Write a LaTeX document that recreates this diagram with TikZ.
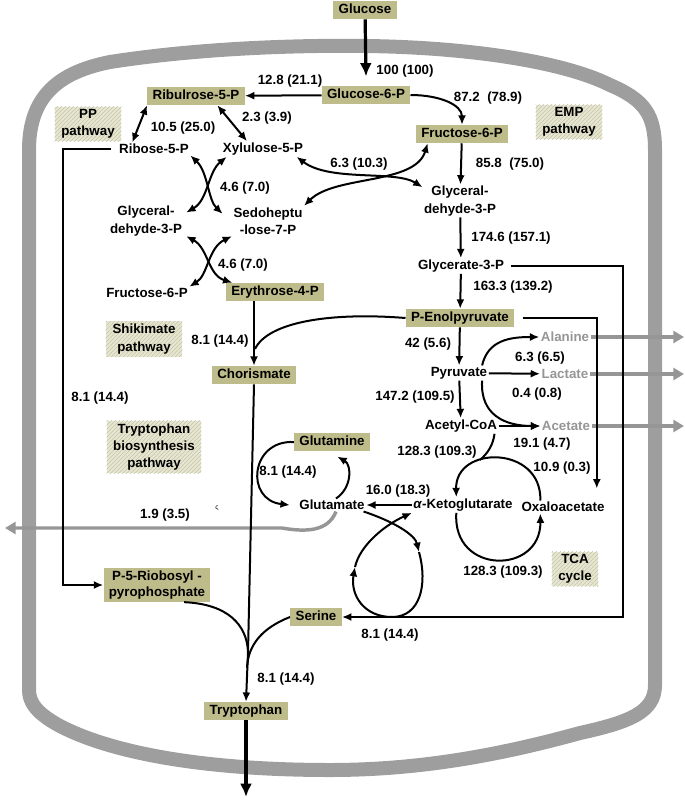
\documentclass[tikz,border=0pt]{standalone}
\usepackage{fontspec}
\setmainfont{Liberation Sans}
\usetikzlibrary{arrows.meta,patterns}
\definecolor{boxolive}{RGB}{190,188,138}
\definecolor{hatchbase}{RGB}{230,230,210}
\definecolor{hatchline}{RGB}{198,198,168}
\definecolor{wallgray}{RGB}{158,158,158}
\definecolor{fluxgray}{RGB}{150,150,150}

\begin{document}
\begin{tikzpicture}
  [x=0.75pt,y=-0.75pt,>={Latex[length=7pt,width=6pt]},
   every node/.style={font=\bfseries\fontsize{10}{13}\selectfont,inner sep=1pt,align=center},
   box/.style={fill=boxolive,inner xsep=4pt,inner ysep=2pt,text height=7.5pt,text depth=2pt},
   boxtwo/.style={fill=boxolive,inner xsep=4pt,inner ysep=2pt,font=\bfseries\fontsize{10}{12}\selectfont},
   hatch/.style={preaction={fill=hatchbase},pattern=north east lines,pattern color=hatchline,inner xsep=5pt,inner ysep=2pt},
   flow/.style={line width=1.5pt},
   bigflow/.style={line width=2.4pt,-{Latex[length=10pt,width=9pt]}},
   grayflow/.style={line width=2.6pt,draw=fluxgray,-{Triangle[length=8pt,width=9pt]}},
   gtext/.style={text=fluxgray}]
  \useasboundingbox (0,0) rectangle (685,800);

  % cell wall
  \draw[line width=10.5pt,wallgray] (29,690) -- (29,150) .. controls (29,95) and (60,72) .. (110,62)
    .. controls (200,48) and (300,45) .. (365,46) .. controls (460,47) and (560,60) .. (610,85)
    .. controls (645,100) and (655,115) .. (655,150) -- (655,685)
    .. controls (655,712) and (630,722) .. (580,733) .. controls (500,755) and (420,770) .. (330,770)
    .. controls (200,770) and (110,752) .. (60,726) .. controls (36,713) and (29,702) .. (29,690) -- cycle;

  % metabolites
  \node[box] (nglc) at (365,10) {Glucose};
  \node[box] (ng6p) at (366,95) {Glucose-6-P};
  \node[box] (nru5p) at (196,96) {Ribulrose-5-P};
  \node[box] (nf6p) at (462,134) {Fructose-6-P};
  \node (nr5p) at (154,149) {Ribose-5-P};
  \node (nx5p) at (263,149) {Xylulose-5-P};
  \node (ngapl) at (146,221) {Glyceral-\\dehyde-3-P};
  \node (ns7p) at (268,221) {Sedoheptu\\-lose-7-P};
  \node (nf6pl) at (147,293) {Fructose-6-P};
  \node[box] (ne4p) at (275,292) {Erythrose-4-P};
  \node (ngap) at (460,201) {Glyceral-\\dehyde-3-P};
  \node (ng3p) at (461,266) {Glycerate-3-P};
  \node[box] (npep) at (460,318) {P-Enolpyruvate};
  \node (npyr) at (459,373) {Pyruvate};
  \node[gtext] (nala) at (565,337) {Alanine};
  \node[gtext] (nlac) at (565,374) {Lactate};
  \node[gtext] (nace) at (566,426) {Acetate};
  \node (naccoa) at (461,426) {Acetyl-CoA};
  \node (nakg) at (463,505) {\textit{α}-Ketoglutarate};
  \node (noaa) at (563,507) {Oxaloacetate};
  \node (nglu) at (332,505) {Glutamate};
  \node[box] (ngln) at (332,442) {Glutamine};
  \node[box] (ncho) at (254,375) {Chorismate};
  \node[boxtwo] (nprpp) at (157,585) {P-5-Riobosyl -\\pyrophosphate};
  \node[box] (nser) at (316,617) {Serine};
  \node[box] (ntrp) at (246,711) {Tryptophan};

  % pathways
  \node[hatch] (hpp) at (88,124) {PP\\pathway};
  \node[hatch] (hemp) at (569,122) {EMP\\pathway};
  \node[hatch] (hshik) at (144,339) {Shikimate\\pathway};
  \node[hatch] (htrp) at (154,447) {Tryptophan\\biosynthesis\\pathway};
  \node[hatch] (htca) at (575,569) {TCA\\cycle};

  % fluxes
  \foreach \x/\y/\t [count=\i] in {405/71/{100 (100)},290/81/{12.8 (21.1)},488/98/{87.2~ (78.9)},
      183/128/{10.5 (25.0)},267/118/{2.3 (3.9)},359/164/{6.3 (10.3)},510/164/{85.8~ (75.0)},
      245/188/{4.6 (7.0)},243/265/{4.6 (7.0)},511/238/{174.6 (157.1)},513/287/{163.3 (139.2)},
      220/341/{8.1 (14.4)},100/398/{8.1 (14.4)},428/344/{42 (5.6)},540/358/{6.3 (6.5)},
      537/394/{0.4 (0.8)},415/397/{147.2 (109.5)},542/444/{19.1 (4.7)},437/452/{128.3 (109.3)},
      562/468/{10.9 (0.3)},288/472/{8.1 (14.4)},398/491/{16.0 (18.3)},165/515/{1.9 (3.5)},
      503/572/{128.3 (109.3)},390/635/{8.1 (14.4)},286/679/{8.1 (14.4)}}
    \node (flx\i) at (\x,\y) {\t};
  \node[font=\fontsize{5}{5}\selectfont] (nmark) at (217,508) {ς};

  \coordinate (xr) at (684,0);
  \coordinate (xl) at (5,528);
  \coordinate (jshik) at (255,349);
  \coordinate (jtrp) at (248,652);
  \coordinate (jser) at (247,668);
  \coordinate (jtca) at (480,460);
  \coordinate (e8a) at (419,552);
  \coordinate (e8b) at (355,567);
  \coordinate (trpout) at (246,797);

  % secreted
  \foreach \n in {nala,nlac,nace}
    \draw[grayflow] (\n.east) -- (\n.east -| xr);
  \draw[grayflow] ([xshift=3pt]nglu.south) .. controls (328,532) and (305,532) .. (282,528) -- (xl);

  \draw[bigflow] (nglc) -- ([yshift=7pt]ng6p.north);
  \draw[bigflow] (ntrp) -- (trpout);

  \foreach \from/\to in {ng6p/nru5p,nf6p/ngap,ngap/ng3p,ng3p/npep,npep/npyr,npyr/naccoa,npyr/nlac,naccoa/nace,nakg/nglu}
    \draw[flow,->] (\from) -- (\to);

  \draw[flow,->] (ng6p.east) .. controls (440,95) and (462,105) .. (nf6p.north);
  \draw[flow,<->] (nru5p.south west) -- ([xshift=11pt]nr5p.north west);
  \draw[flow,<->] ([xshift=16pt]nru5p.south) -- ([xshift=-12pt]nx5p.north);
  \draw[flow,<->] (nr5p.south east) .. controls (208,172) and (208,200) .. ([xshift=-7pt,yshift=-6pt]ns7p.north west);
  \draw[flow,<->] ([xshift=4pt]nx5p.south west) .. controls (208,172) and (208,200) .. ([xshift=2pt,yshift=-6pt]ngapl.north east);
  \draw[flow,<->] ([xshift=2pt,yshift=1pt]ngapl.south east) .. controls (208,248) and (208,275) .. ([xshift=5pt]ne4p.north west);
  \draw[flow,<->] (ns7p.south west) .. controls (208,248) and (208,275) .. (nf6pl.north east);
  \draw[flow,<->] ([xshift=-6pt]nx5p.south east) .. controls (330,182) and (395,170) .. ([yshift=-2pt]ngap.north west);
  \draw[flow,<->] (ns7p.north east) .. controls (335,175) and (415,185) .. ([xshift=9pt]nf6p.south west);

  \draw[flow,->] ([xshift=-5pt]nr5p.west) -- ++(-48,0) |- (nprpp.west);
  \draw[flow,->] ([xshift=4pt]ng3p.east) -- ++(112,0) |- (nser.east);
  \draw[flow,->] ([xshift=6pt]npep.east) -| ([xshift=-7pt,yshift=9pt]noaa.north east);
  \draw[flow] (npep.west) .. controls (330,312) and (268,322) .. (jshik);
  \draw[flow,->] (ncho.north |- ne4p.south) -- (ncho.north);
  \draw[flow] (ncho.south) -- (jtrp);
  \draw[flow,->] (jtrp) -- (ntrp.north);
  \draw[flow] ([xshift=-20pt]nprpp.south east) .. controls (228,604) and (247,625) .. (jtrp);
  \draw[flow] (nser.west) .. controls (262,628) and (248,645) .. (jser);

  \draw[flow,->] ([xshift=-5pt]npyr.north east) .. controls (488,340) and (510,337) .. (nala.west);
  \draw[flow,->] ([xshift=-5pt]npyr.south east) .. controls (480,415) and (505,426) .. (nace.west);
  \draw[flow] ([xshift=-3pt]naccoa.south east) .. controls (493,445) and (488,453) .. (jtca);
  \draw[flow,->] ([xshift=-17pt]noaa.north) .. controls (542,445) and (455,445) .. ([xshift=-5pt]nakg.north);
  \draw[flow,->] ([xshift=-5pt]nakg.south) .. controls (452,575) and (541,575) .. ([xshift=-17pt]noaa.south);

  \draw[flow,->] (ngln.west) .. controls (250,440) and (245,500) .. ([xshift=-6pt]nglu.west);
  \draw[flow,->] ([xshift=3pt]nglu.north) .. controls (352,488) and (352,465) .. ([xshift=4pt,yshift=-4pt]ngln.south);
  \draw[flow,->] ([xshift=-2pt]nglu.south east) .. controls (395,522) and (415,535) .. (e8a);
  \draw[flow,->] (e8a) .. controls (428,585) and (420,617) .. (392,617) .. controls (364,617) and (350,595) .. (e8b);
  \draw[flow,->] (e8b) .. controls (360,545) and (385,525) .. (nakg.south west);
\end{tikzpicture}
\end{document}
